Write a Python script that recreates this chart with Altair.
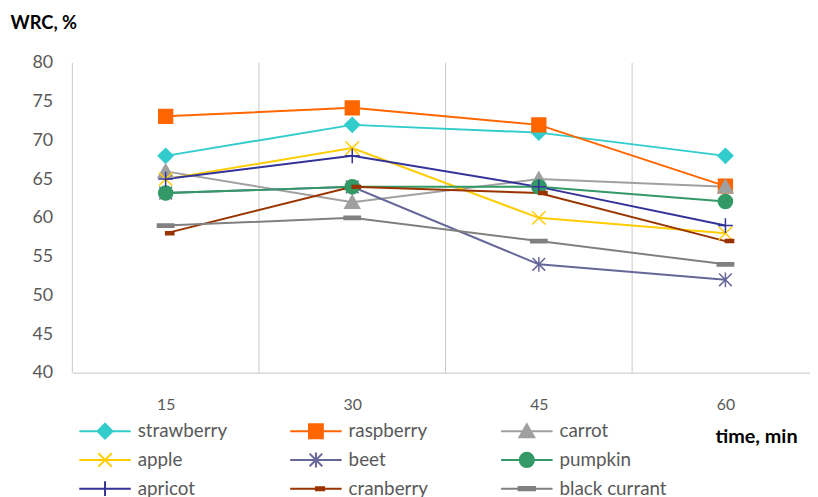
import altair as alt
import pandas as pd

# ---------------- data ----------------
times = [15, 30, 45, 60]
series = ["strawberry", "raspberry", "carrot", "apple", "beet",
          "pumpkin", "apricot", "cranberry", "black currant"]
strawberry = [68.0, 72.0, 71.0, 68.0]
raspberry = [73.1, 74.2, 72.0, 64.1]
carrot = [66.0, 62.0, 65.0, 64.0]
apple = [65.0, 69.0, 60.0, 58.0]
beet = [63.2, 64.0, 54.0, 52.0]
pumpkin = [63.2, 64.0, 64.0, 62.1]
apricot = [65.0, 68.0, 64.0, 59.0]
cranberry = [58.0, 64.0, 63.2, 57.0]
black_currant = [59.0, 60.0, 57.0, 54.0]
category_edges = [7.5, 22.5, 37.5, 52.5]
y_ticks = [40, 45, 50, 55, 60, 65, 70, 75, 80]

values = [strawberry, raspberry, carrot, apple, beet,
          pumpkin, apricot, cranberry, black_currant]

# ---------------- styles ----------------
colors = ["#33CCCC", "#FF6600", "#A0A0A0", "#FFCC00", "#666699",
          "#339966", "#333399", "#993300", "#808080"]
kinds = ["diamond", "square", "triangle", "x", "asterisk",
         "circle", "plus", "halfdash", "dash"]


def f(v):
    return f"{v:.3f}".rstrip("0").rstrip(".")


def marker(kind, s):
    if kind == "diamond":
        return f"M0,{f(-s)}L{f(s)},0L0,{f(s)}L{f(-s)},0Z"
    if kind == "square":
        a = 0.93 * s
        return f"M{f(-a)},{f(-a)}H{f(a)}V{f(a)}H{f(-a)}Z"
    if kind == "triangle":
        return f"M0,{f(-0.95 * s)}L{f(s)},{f(0.8 * s)}H{f(-s)}Z"
    if kind == "x":
        a = 0.9 * s
        return f"M{f(-a)},{f(-a)}L{f(a)},{f(a)}M{f(-a)},{f(a)}L{f(a)},{f(-a)}"
    if kind == "asterisk":
        a = 0.85 * s
        return (f"M{f(-a)},{f(-a)}L{f(a)},{f(a)}M{f(-a)},{f(a)}L{f(a)},{f(-a)}"
                f"M0,{f(-s)}V{f(s)}")
    if kind == "circle":
        r = 0.95 * s
        return f"M{f(-r)},0A{f(r)},{f(r)} 0 1,0 {f(r)},0A{f(r)},{f(r)} 0 1,0 {f(-r)},0Z"
    if kind == "plus":
        return f"M{f(-s)},0H{f(s)}M0,{f(-s)}V{f(s)}"
    if kind == "halfdash":
        return f"M0,{f(-0.2 * s)}H{f(1.1 * s)}V{f(0.2 * s)}H0Z"
    if kind == "dash":
        return f"M{f(-1.1 * s)},{f(-0.22 * s)}H{f(1.1 * s)}V{f(0.22 * s)}H{f(-1.1 * s)}Z"


point_paths = [marker(k, 1.0) for k in kinds]
legend_paths = ["M-1,0H1" + marker(k, 0.29) for k in kinds]

rows = []
for name, vals in zip(series, values):
    for t, v in zip(times, vals):
        rows.append({"time": t, "wrc": v, "series": name})
df = pd.DataFrame(rows)
grid_df = pd.DataFrame({"time": category_edges})
legend_df = pd.DataFrame({"series": series})

FONT = "Lato"

x_enc = alt.X(
    "time:Q",
    scale=alt.Scale(domain=[7.5, 66.8], nice=False, zero=False),
    axis=alt.Axis(
        values=times, grid=False, ticks=False, domain=True,
        domainColor="#D9D9D9", domainWidth=1.5,
        labelFont=FONT, labelFontSize=16, labelColor="#595959",
        labelPadding=24,
        title="time, min", titleFont=FONT, titleFontSize=20,
        titleFontWeight="bold", titleColor="#000000",
        titleX=649, titleY=64, titleAlign="left", titleBaseline="middle",
        titleAnchor="start",
    ),
)
y_enc = alt.Y(
    "wrc:Q",
    scale=alt.Scale(domain=[40, 80], nice=False, zero=False),
    axis=alt.Axis(
        values=y_ticks, grid=False, ticks=False, domain=False,
        labelFont=FONT, labelFontSize=18, labelColor="#595959",
        labelPadding=20,
        title="WRC, %", titleFont=FONT, titleFontSize=18.5,
        titleFontWeight="bold", titleColor="#000000", titleAngle=0,
        titleX=-63, titleY=-41, titleAlign="left", titleBaseline="middle",
        titleAnchor="start",
    ),
)

grid = alt.Chart(grid_df).mark_rule(color="#C8C8C8", strokeWidth=1).encode(x=x_enc)

lines = alt.Chart(df).mark_line(strokeWidth=2).encode(
    x=x_enc,
    y=y_enc,
    color=alt.Color("series:N", scale=alt.Scale(domain=series, range=colors), legend=None),
)

points = alt.Chart(df).mark_point(filled=True, size=225, strokeWidth=1.5, opacity=1).encode(
    x=x_enc,
    y=y_enc,
    fill=alt.Fill("series:N", scale=alt.Scale(domain=series, range=colors), legend=None),
    stroke=alt.Stroke("series:N", scale=alt.Scale(domain=series, range=colors), legend=None),
    shape=alt.Shape("series:N", scale=alt.Scale(domain=series, range=point_paths), legend=None),
)


def leg():
    return alt.Legend(
        title=None, orient="none", legendX=6, legendY=362, columns=3,
        direction="horizontal", clipHeight=20,
        gridAlign="all", columnPadding=44, rowPadding=9,
        symbolSize=2704, symbolStrokeWidth=2, labelOffset=6,
        labelFont=FONT, labelFontSize=19, labelColor="#595959",
        padding=0, symbolOpacity=1,
    )


legend_layer = alt.Chart(legend_df).transform_filter("false").mark_point(
    filled=True, strokeWidth=2, opacity=1
).encode(
    fill=alt.Fill("series:N", scale=alt.Scale(domain=series, range=colors), legend=leg()),
    stroke=alt.Stroke("series:N", scale=alt.Scale(domain=series, range=colors), legend=leg()),
    shape=alt.Shape("series:N", scale=alt.Scale(domain=series, range=legend_paths), legend=leg()),
)

chart = alt.layer(grid, lines, points, legend_layer).resolve_scale(
    color="independent", fill="independent", stroke="independent", shape="independent"
).properties(
    width=745, height=313,
    autosize=alt.AutoSizeParams(type="none"),
    padding={"left": 65, "top": 53, "right": 0, "bottom": 123},
    background="white",
).configure_view(stroke=None)

chart.save("out.html", embed_options={"renderer": "svg", "actions": False})
